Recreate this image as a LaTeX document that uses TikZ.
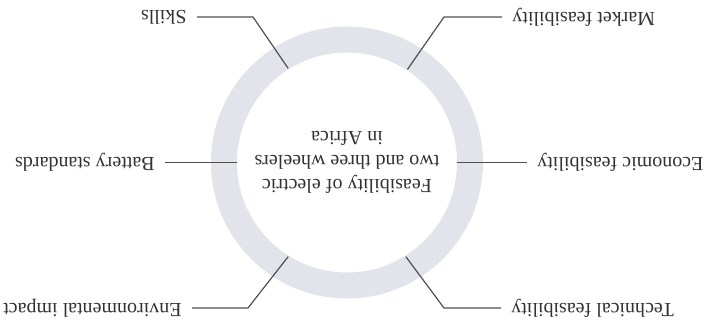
\documentclass[tikz,border=0pt]{standalone}
\usepackage{fontspec}
\setmainfont{Liberation Serif}
\usepackage{tikz}
\usetikzlibrary{positioning}
\definecolor{ringgrey}{RGB}{227,227,236}
\definecolor{leadgrey}{RGB}{80,80,80}
\definecolor{textgrey}{RGB}{50,50,50}

\begin{document}
\begin{tikzpicture}[x=0.5pt, y=0.5pt,
            rotate around={180:(354,163.5)}, transform shape,
            ring/.style={ringgrey, line width=13pt},
            leader/.style={leadgrey, line width=0.6pt},
            factor/.style={font=\fontsize{10}{12}\selectfont, text=textgrey, inner xsep=5pt, inner ysep=1pt},
            topic/.style={font=\fontsize{10}{12}\selectfont, text=textgrey, align=center}
        ]
            \useasboundingbox (0,0) rectangle (708,327);

            % Ring with the topic inside
            \coordinate (centre) at (361,162.5);
            \draw [ring] (centre) circle [radius=123];
            \node [topic] (feasibility) at (centre) {Feasibility of electric\\two and three wheelers\\in Africa};

            % Factors on the left
            \coordinate (techend) at (207,308);
            \coordinate (techbend) at (264,308);
            \path (centre) ++(122:111) coordinate (techtip);
            \node [factor, left=0pt of techend] (tech) {Technical feasibility};
            \draw [leader] (tech.east) -- (techbend) -- (techtip);

            \coordinate (econend) at (181,162.5);
            \path (centre) ++(180:110) coordinate (econtip);
            \node [factor, left=0pt of econend] (econ) {Economic feasibility};
            \draw [leader] (econ.east) -- (econtip);

            \coordinate (marketend) at (206,17);
            \coordinate (marketbend) at (264,17);
            \path (centre) ++(237:111) coordinate (markettip);
            \node [factor, left=0pt of marketend] (market) {Market feasibility};
            \draw [leader] (market.east) -- (marketbend) -- (markettip);

            % Factors on the right
            \coordinate (envend) at (516,308);
            \coordinate (envbend) at (460,308);
            \path (centre) ++(58:111) coordinate (envtip);
            \node [factor, right=0pt of envend] (env) {Environmental impact};
            \draw [leader] (env.west) -- (envbend) -- (envtip);

            \coordinate (battend) at (543,162.5);
            \path (centre) ++(0:110) coordinate (batttip);
            \node [factor, right=0pt of battend] (batt) {Battery standards};
            \draw [leader] (batt.west) -- (batttip);

            \coordinate (skillsend) at (511,17);
            \coordinate (skillsbend) at (455,17);
            \path (centre) ++(302:111) coordinate (skillstip);
            \node [factor, right=0pt of skillsend] (skills) {Skills};
            \draw [leader] (skills.west) -- (skillsbend) -- (skillstip);
        \end{tikzpicture}
\end{document}
